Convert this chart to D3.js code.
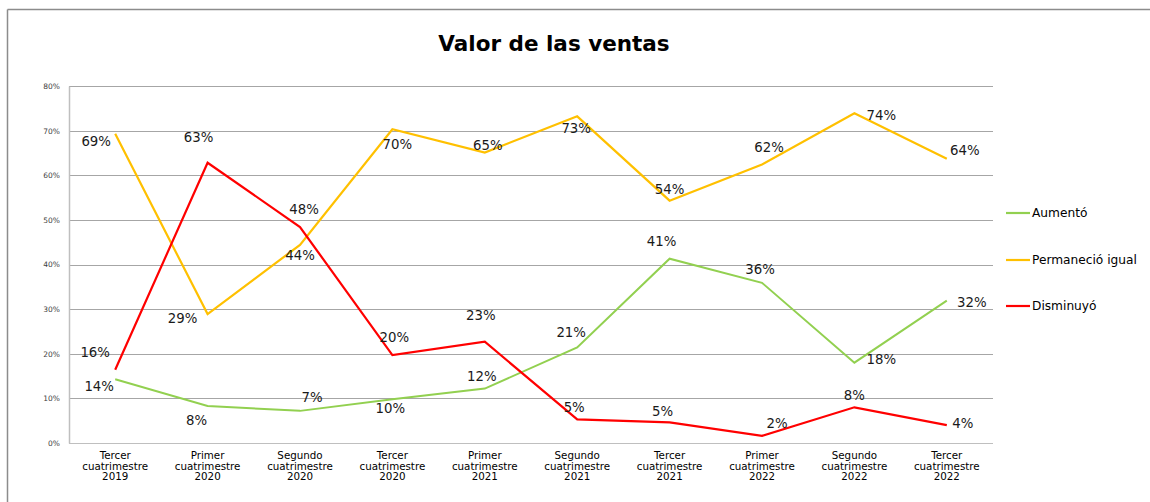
<!DOCTYPE html>
<html>
<head>
<meta charset="utf-8">
<script src="https://cdn.jsdelivr.net/npm/d3@7"></script>
<style>
  html, body { margin: 0; padding: 0; background: #fff; }
  svg { display: block; }
</style>
</head>
<body>
<svg id="chart" width="1150" height="502"></svg>
<script>
// Valor de las ventas – tres series en porcentaje

const categories = [
  ["Tercer", "cuatrimestre", "2019"],
  ["Primer", "cuatrimestre", "2020"],
  ["Segundo", "cuatrimestre", "2020"],
  ["Tercer", "cuatrimestre", "2020"],
  ["Primer", "cuatrimestre", "2021"],
  ["Segundo", "cuatrimestre", "2021"],
  ["Tercer", "cuatrimestre", "2021"],
  ["Primer", "cuatrimestre", "2022"],
  ["Segundo", "cuatrimestre", "2022"],
  ["Tercer", "cuatrimestre", "2022"]
];

const aumento      = [0.143, 0.083, 0.072, 0.098, 0.122, 0.214, 0.413, 0.359, 0.180, 0.319];
const permanecio   = [0.693, 0.289, 0.444, 0.703, 0.651, 0.732, 0.543, 0.624, 0.739, 0.637];
const disminuyo    = [0.164, 0.628, 0.484, 0.197, 0.227, 0.053, 0.046, 0.016, 0.080, 0.040];

const seriesNames  = ["Aumentó", "Permaneció igual", "Disminuyó"];
const yTicks       = [0, 0.1, 0.2, 0.3, 0.4, 0.5, 0.6, 0.7, 0.8];

// posición de las etiquetas de datos respecto al punto (dx, dy del centro)
const offAumento    = [[-16, 7], [-11, 15], [12, -13], [-2, 9], [-3, -12], [-6, -15], [-8, -17], [-2, -13], [27, -3], [25, 2]];
const offPermanecio = [[-19, 8], [-25, 4], [0, 11], [5, 15], [3, -7], [-1, 12], [0, -11], [7, -17], [27, 2], [18, -8]];
const offDisminuyo  = [[-20, -17], [-9, -25], [4, -18], [2, -18], [-4, -26], [-3, -12], [-7, -11], [15, -12], [0, -12], [16, -2]];

const colors = ["#92d050", "#ffc000", "#ff0000"];

const width = 1150, height = 502;
const margin = { top: 86, right: 157, bottom: 59, left: 69 };
const font = "'DejaVu Sans', Verdana, sans-serif";

const svg = d3.select("#chart");

// marco exterior (sólo arriba e izquierda visibles)
svg.append("line").attr("x1", 7.5).attr("x2", width).attr("y1", 9.5).attr("y2", 9.5)
  .attr("stroke", "#8c8c8c").attr("stroke-width", 1.5);
svg.append("line").attr("x1", 7.5).attr("x2", 7.5).attr("y1", 9.5).attr("y2", height)
  .attr("stroke", "#8c8c8c").attr("stroke-width", 1.5);

svg.append("text")
  .attr("x", 554).attr("y", 51)
  .attr("text-anchor", "middle")
  .style("font-family", font)
  .style("font-weight", "bold")
  .style("font-size", "21.5px")
  .attr("fill", "#000")
  .text("Valor de las ventas");

const x = d3.scaleBand()
  .domain(d3.range(categories.length))
  .range([margin.left, width - margin.right]);

const y = d3.scaleLinear()
  .domain([0, 0.8])
  .range([height - margin.bottom, margin.top]);

const cx = i => x(i) + x.bandwidth() / 2;

// rejilla
svg.append("g")
  .selectAll("line")
  .data(yTicks)
  .join("line")
  .attr("x1", margin.left).attr("x2", width - margin.right)
  .attr("y1", d => Math.round(y(d)) + 0.5)
  .attr("y2", d => Math.round(y(d)) + 0.5)
  .attr("stroke", d => d === 0 ? "#bfbfbf" : "#a6a6a6")
  .attr("stroke-width", 1.2);

// eje y
const yAxis = svg.append("g")
  .attr("transform", `translate(${margin.left},0)`)
  .call(d3.axisLeft(y).tickValues(yTicks).tickFormat(d3.format(".0%")).tickSize(0).tickPadding(9));
yAxis.select(".domain").attr("stroke", "#bfbfbf").attr("stroke-width", 1.5);
yAxis.selectAll("text")
  .style("font-family", font)
  .style("font-size", "7.5px")
  .attr("fill", "#404040");

// etiquetas del eje x (tres líneas)
const xLab = svg.append("g")
  .selectAll("text")
  .data(categories)
  .join("text")
  .attr("x", (d, i) => cx(i))
  .attr("y", height - margin.bottom + 16)
  .attr("text-anchor", "middle")
  .style("font-family", font)
  .style("font-size", "10.3px")
  .attr("fill", "#000");
xLab.selectAll("tspan")
  .data(d => d)
  .join("tspan")
  .attr("x", function () { return this.parentNode.getAttribute("x"); })
  .attr("dy", (d, i) => i === 0 ? 0 : 10.6)
  .text(d => d);

// líneas
const allSeries = [aumento, permanecio, disminuyo];
const allOffsets = [offAumento, offPermanecio, offDisminuyo];

const line = d3.line()
  .x((d, i) => cx(i))
  .y(d => y(d));

allSeries.forEach((vals, s) => {
  svg.append("path")
    .datum(vals)
    .attr("fill", "none")
    .attr("stroke", colors[s])
    .attr("stroke-width", s === 0 ? 2 : 2.2)
    .attr("d", line);
});

// etiquetas de datos
allSeries.forEach((vals, s) => {
  svg.append("g")
    .selectAll("text")
    .data(vals)
    .join("text")
    .attr("x", (d, i) => cx(i) + allOffsets[s][i][0])
    .attr("y", (d, i) => y(d) + allOffsets[s][i][1] + 4.5)
    .attr("text-anchor", "middle")
    .style("font-family", font)
    .style("font-size", "13.3px")
    .attr("fill", "#1a1a1a")
    .text(d => d3.format(".0%")(d));
});

// leyenda
const legendY = [213, 260, 306];
const legend = svg.append("g");
seriesNames.forEach((name, i) => {
  legend.append("line")
    .attr("x1", 1006).attr("x2", 1030)
    .attr("y1", legendY[i]).attr("y2", legendY[i])
    .attr("stroke", colors[i]).attr("stroke-width", 2.2);
  legend.append("text")
    .attr("x", 1032).attr("y", legendY[i] + 4)
    .style("font-family", font)
    .style("font-size", "12.2px")
    .attr("fill", "#000")
    .text(name);
});
</script>
</body>
</html>
